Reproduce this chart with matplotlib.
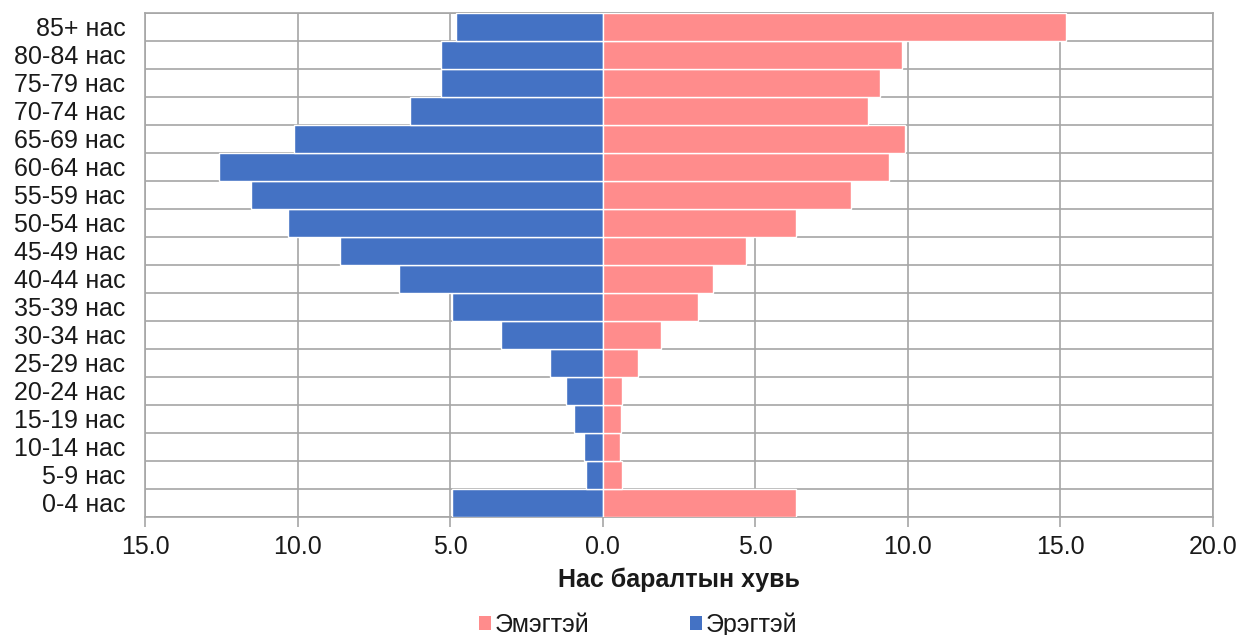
import matplotlib
matplotlib.use("Agg")
import matplotlib.pyplot as plt
from matplotlib.patches import Patch
import numpy as np

plt.rcParams['font.family'] = ['Liberation Sans', 'DejaVu Sans']

categories = ["0-4 нас", "5-9 нас", "10-14 нас", "15-19 нас", "20-24 нас", "25-29 нас",
              "30-34 нас", "35-39 нас", "40-44 нас", "45-49 нас", "50-54 нас", "55-59 нас",
              "60-64 нас", "65-69 нас", "70-74 нас", "75-79 нас", "80-84 нас", "85+ нас"]
male = [4.95, 0.56, 0.62, 0.95, 1.21, 1.74, 3.34, 4.95, 6.69, 8.62, 10.30, 11.51,
        12.59, 10.13, 6.30, 5.31, 5.31, 4.82]
female = [6.35, 0.62, 0.56, 0.59, 0.62, 1.15, 1.90, 3.11, 3.60, 4.71, 6.32, 8.15,
          9.39, 9.92, 8.71, 9.10, 9.82, 15.19]
xticks = [-15, -10, -5, 0, 5, 10, 15, 20]
xlabel = "Нас баралтын хувь"
female_label = "Эмэгтэй"
male_label = "Эрэгтэй"

male_color = "#4472C4"
female_color = "#FF8C8C"
grid_color = "#A6A6A6"
fs = 18

fig = plt.figure(figsize=(12.39, 6.35), dpi=100)
ax = fig.add_axes([145/1239, 1 - 517/635, (1213-145)/1239, (517-13)/635])

y = np.arange(len(categories))
ax.barh(y, [-v for v in male], height=1.0, color=male_color, edgecolor="white",
        linewidth=1.0, zorder=3)
ax.barh(y, female, height=1.0, color=female_color, edgecolor="white",
        linewidth=1.0, zorder=3)

ax.set_xlim(-15, 20)
ax.set_ylim(-0.5, len(categories) - 0.5)
ax.set_xticks(xticks)
ax.set_xticklabels([f"{abs(t):.1f}" for t in xticks], fontsize=fs, color="#1a1a1a")
ax.set_yticks(y)
ax.set_yticklabels(categories, fontsize=fs, color="#1a1a1a")
ax.set_yticks(np.arange(-0.5, len(categories), 1.0), minor=True)
ax.tick_params(axis='y', which='both', length=0, pad=14)
ax.tick_params(axis='x', which='major', length=7, color=grid_color, width=1.2, pad=6)
ax.grid(True, axis='x', which='major', color=grid_color, linewidth=1.2, zorder=0)
ax.grid(True, axis='y', which='minor', color=grid_color, linewidth=1.2, zorder=0)
ax.set_axisbelow(True)
for s in ax.spines.values():
    s.set_color(grid_color)
    s.set_linewidth(1.2)

ax.set_xlabel(xlabel, fontsize=fs, fontweight='bold', labelpad=6, color="#1a1a1a")

handles = [Patch(facecolor=female_color, label=female_label),
           Patch(facecolor=male_color, label=male_label)]
fig.legend(handles=handles, loc='lower center', bbox_to_anchor=(0.515, -0.038),
           ncol=2, frameon=False, fontsize=fs, handlelength=0.5, handleheight=0.5,
           handletextpad=0.15, columnspacing=4.0, labelcolor="#1a1a1a")

fig.savefig("out.png", dpi=100)
